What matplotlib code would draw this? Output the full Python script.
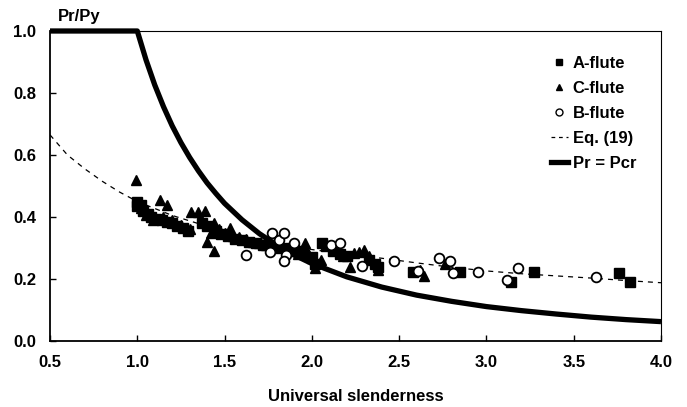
import numpy as np
import matplotlib
matplotlib.use("Agg")
import matplotlib.pyplot as plt
from matplotlib.lines import Line2D

plt.rcParams['font.family'] = ['Liberation Sans', 'DejaVu Sans']

# A-flute (filled squares)
a_x = [1.00, 1.00, 1.02, 1.03, 1.06, 1.08, 1.11, 1.14, 1.17, 1.20, 1.23, 1.26, 1.29,
       1.37, 1.40, 1.45, 1.48, 1.52, 1.56, 1.60, 1.64, 1.68, 1.72, 1.76, 1.80, 1.85,
       1.90, 1.95, 2.00, 2.02, 2.06, 2.08, 2.12, 2.16, 2.20, 2.33, 2.36, 2.38,
       2.58, 2.85, 3.14, 3.27, 3.76, 3.82]
a_y = [0.450, 0.435, 0.440, 0.420, 0.410, 0.400, 0.395, 0.390, 0.385, 0.380, 0.370, 0.365, 0.355,
       0.380, 0.370, 0.355, 0.345, 0.340, 0.330, 0.325, 0.320, 0.315, 0.310, 0.310, 0.305, 0.300,
       0.295, 0.290, 0.270, 0.250, 0.315, 0.305, 0.290, 0.280, 0.275, 0.260, 0.250, 0.240,
       0.224, 0.224, 0.191, 0.221, 0.220, 0.190]

# C-flute (filled triangles)
c_x = [0.99, 1.02, 1.05, 1.09, 1.13, 1.15, 1.17, 1.20, 1.25, 1.30, 1.31, 1.35, 1.39,
       1.40, 1.42, 1.44, 1.44, 1.47, 1.50, 1.53, 1.55, 1.58, 1.62, 1.66, 1.70, 1.74,
       1.78, 1.82, 1.88, 1.92, 1.96, 1.98, 2.00, 2.02, 2.05, 2.18, 2.22, 2.24, 2.27,
       2.30, 2.33, 2.38, 2.62, 2.64, 2.76]
c_y = [0.520, 0.430, 0.405, 0.390, 0.455, 0.400, 0.440, 0.390, 0.375, 0.360, 0.417, 0.417, 0.420,
       0.320, 0.350, 0.380, 0.290, 0.360, 0.350, 0.365, 0.340, 0.335, 0.330, 0.320, 0.315, 0.310,
       0.310, 0.300, 0.290, 0.280, 0.316, 0.285, 0.267, 0.236, 0.260, 0.275, 0.240, 0.284, 0.288,
       0.294, 0.275, 0.230, 0.230, 0.210, 0.250]

# B-flute (open circles)
b_x = [1.62, 1.76, 1.77, 1.81, 1.84, 1.85, 1.84, 1.90, 2.11, 2.16, 2.29, 2.47, 2.61,
       2.73, 2.79, 2.81, 2.95, 3.12, 3.18, 3.63]
b_y = [0.277, 0.288, 0.347, 0.326, 0.347, 0.277, 0.258, 0.315, 0.310, 0.315, 0.243, 0.258, 0.227,
       0.269, 0.258, 0.218, 0.224, 0.197, 0.236, 0.207]

# Eq. (19)
eq_x = [0.5, 0.6, 0.7, 0.8, 0.9, 1.0, 1.2, 1.4, 1.6, 1.8, 2.0, 2.2, 2.4, 2.6, 2.8, 3.0,
        3.2, 3.4, 3.6, 3.8, 4.0]
eq_y = [0.665, 0.600, 0.555, 0.515, 0.480, 0.450, 0.405, 0.370, 0.340, 0.315, 0.295, 0.280,
        0.267, 0.252, 0.238, 0.226, 0.217, 0.210, 0.203, 0.195, 0.188]

# Pr = Pcr
pcr_x = [0.5, 1.0, 1.05, 1.1, 1.15, 1.2, 1.25, 1.3, 1.35, 1.4, 1.45, 1.5, 1.6, 1.7, 1.8, 1.9,
         2.0, 2.2, 2.4, 2.6, 2.8, 3.0, 3.2, 3.4, 3.6, 3.8, 4.0]
pcr_y = [1.0, 1.0, 0.907, 0.826, 0.756, 0.694, 0.640, 0.592, 0.549, 0.510, 0.476, 0.444,
         0.391, 0.346, 0.309, 0.277, 0.250, 0.207, 0.174, 0.148, 0.128, 0.111, 0.098,
         0.087, 0.077, 0.069, 0.0625]

fig = plt.figure(figsize=(6.87, 4.07), dpi=100)
ax = fig.add_axes([50 / 687, 66 / 407, 611 / 687, 310 / 407])

ax.plot(pcr_x, pcr_y, color='black', lw=3.8, solid_capstyle='butt', clip_on=False, zorder=3)
ax.plot(eq_x, eq_y, color='black', lw=0.9, dashes=(4, 4), zorder=2)
ax.plot(a_x, a_y, 's', color='black', ms=7, zorder=4)
ax.plot(c_x, c_y, '^', color='black', ms=7.5, zorder=4)
ax.plot(b_x, b_y, 'o', mfc='white', mec='black', mew=1.3, ms=7, zorder=5)

ax.set_xlim(0.5, 4.0)
ax.set_ylim(0.0, 1.0)
ax.set_xticks([0.5, 1.0, 1.5, 2.0, 2.5, 3.0, 3.5, 4.0])
ax.set_yticks([0.0, 0.2, 0.4, 0.6, 0.8, 1.0])
ax.xaxis.set_major_formatter(plt.FormatStrFormatter('%.1f'))
ax.yaxis.set_major_formatter(plt.FormatStrFormatter('%.1f'))
ax.tick_params(direction='in', length=4, width=1, labelsize=12, pad=10)
for lbl in ax.get_xticklabels() + ax.get_yticklabels():
    lbl.set_fontweight('bold')
for s in ['left', 'bottom']:
    ax.spines[s].set_linewidth(1.3)
for s in ['top', 'right']:
    ax.spines[s].set_linewidth(0.8)

ax.set_xlabel('Universal slenderness', fontsize=12, fontweight='bold', labelpad=14)
fig.text(58 / 687, 1 - 16 / 407, 'Pr/Py', fontsize=12, fontweight='bold', ha='left', va='center')

handles = [
    Line2D([], [], marker='s', ls='none', color='black', ms=4.5),
    Line2D([], [], marker='^', ls='none', color='black', ms=4.5),
    Line2D([], [], marker='o', ls='none', mfc='white', mec='black', ms=5),
    Line2D([], [], color='black', lw=0.9, dashes=(3, 3)),
    Line2D([], [], color='black', lw=3.8),
]
labels = ['A-flute', 'C-flute', 'B-flute', 'Eq. (19)', 'Pr = Pcr']
leg = ax.legend(handles, labels, loc='upper right', bbox_to_anchor=(0.97, 0.94), frameon=False,
                prop={'size': 12, 'weight': 'bold'}, handlelength=1.0, handletextpad=0.3,
                labelspacing=0.6, borderaxespad=0)

fig.savefig('out.png', dpi=100)
